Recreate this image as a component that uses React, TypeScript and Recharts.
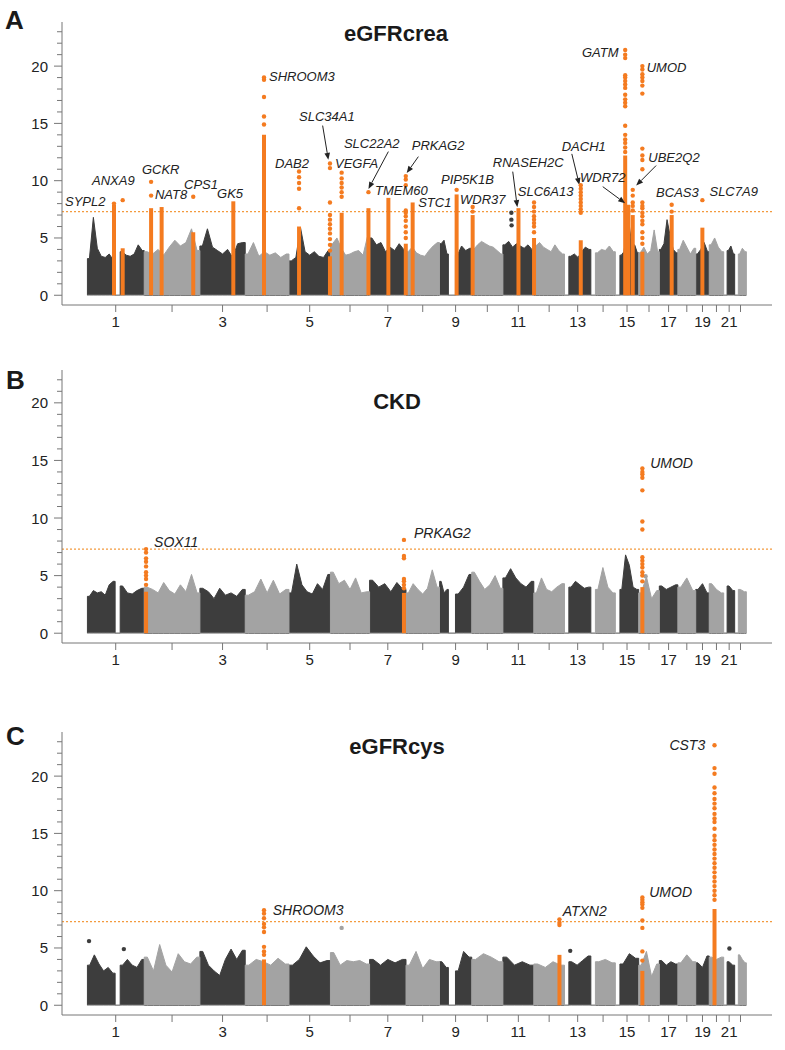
import React from "react"
import { ComposedChart, Area, Scatter, XAxis, YAxis, ReferenceLine, ReferenceDot } from "recharts"

const DARK = "#3d3d3d"
const GREY = "#a3a3a3"
const ORANGE = "#f47b20"
const AXIS = "#777777"
const FONT = "'Liberation Sans', Arial, Helvetica, sans-serif"

// chromosome lengths (Mb) and the stretches that actually carry SNPs
const chromLengths = [249, 243, 198, 191, 181, 171, 159, 146, 141, 136, 135, 134, 115, 107, 102, 90, 81, 78, 59, 63, 48, 51]
const tickLabels = ["1", "", "3", "", "5", "", "7", "", "9", "", "11", "", "13", "", "15", "", "17", "", "19", "", "21", ""]
const dataSpans: [number, number][][] = [
  [[1, 122], [144, 249]], [[0, 243]], [[0, 198]], [[0, 191]], [[0, 181]], [[0, 171]], [[0, 159]], [[0, 146]],
  [[1, 39], [70, 141]], [[0, 136]], [[0, 135]], [[0, 134]], [[19, 115]], [[20, 107]], [[20, 102]], [[0, 90]],
  [[0, 81]], [[0, 78]], [[0, 59]], [[0, 63]], [[15, 48]], [[16, 51]],
]

// upper edge of the dense background cloud, per chromosome and stretch (-log10 p)
const envA: number[][][] = [
  [[3.2, 6.8, 4.1, 3.4, 3.3, 3.6, 3.1], [3.8, 3.5, 3.4, 3.6, 4.4, 3.9]],
  [[3.8, 3.6, 4.0, 3.5, 4.2, 4.8, 4.3, 4.6, 5.8, 3.9]],
  [[4.3, 5.8, 4.2, 3.9, 3.6, 4.0, 3.3, 4.5, 4.6]],
  [[3.6, 4.6, 3.4, 3.8, 3.5, 3.7, 3.3, 3.6]],
  [[3.0, 3.3, 5.9, 3.8, 3.5, 3.8, 3.4, 3.3, 3.9]],
  [[4.5, 5.0, 4.1, 3.5, 3.6, 3.8, 3.9, 3.5, 5.1]],
  [[5.0, 4.4, 4.6, 3.8, 4.2, 3.9, 4.5, 4.0]],
  [[3.8, 4.2, 3.7, 3.5, 3.4, 3.9, 4.3, 4.6]],
  [[4.5, 4.8, 3.6], [3.5, 4.3, 3.9, 4.1]],
  [[4.0, 4.4, 4.7, 4.5, 4.3, 4.2, 3.9, 3.6]],
  [[4.4, 4.7, 4.2, 4.5, 4.3, 4.1, 4.4, 4.0]],
  [[4.3, 4.6, 4.2, 4.0, 3.8, 4.4, 3.9, 3.6]],
  [[3.4, 3.6, 3.3, 3.8, 4.2, 4.0]],
  [[3.7, 4.0, 3.9, 4.3, 3.8]],
  [[3.5, 3.8, 5.6, 6.1, 4.2, 4.4, 3.7]],
  [[3.7, 4.2, 3.6, 3.9, 5.7, 3.8]],
  [[4.0, 4.5, 6.6, 5.2, 4.0, 3.7]],
  [[4.0, 4.8, 4.2, 3.6, 4.1]],
  [[3.6, 4.0, 4.6, 3.8]],
  [[4.4, 5.0, 4.2, 3.8]],
  [[3.9, 4.3, 3.6]],
  [[3.6, 4.1, 3.8]],
]

const envB: number[][][] = [
  [[3.2, 3.7, 3.5, 3.6, 3.3, 4.2, 4.5], [4.1, 3.5, 3.4, 3.7, 3.9]],
  [[4.0, 3.8, 3.5, 4.4, 3.7, 3.4, 4.2, 3.6, 5.1, 3.5]],
  [[3.9, 3.6, 3.0, 3.9, 3.3, 3.5, 3.2, 3.8]],
  [[3.3, 3.6, 4.7, 3.5, 4.6, 3.4, 3.8]],
  [[3.5, 6.0, 4.2, 3.6, 3.4, 4.3, 3.8, 5.1]],
  [[5.3, 4.3, 4.6, 3.8, 4.8, 3.5, 3.6]],
  [[4.6, 4.0, 4.3, 3.6, 4.4, 3.8]],
  [[3.5, 4.3, 3.8, 3.4, 3.9, 5.5, 4.0]],
  [[4.5, 3.5, 3.8], [3.4, 4.0, 5.1]],
  [[5.3, 4.5, 3.8, 4.2, 5.0, 3.9]],
  [[4.8, 5.6, 4.8, 4.3, 4.0, 4.5]],
  [[3.5, 4.8, 3.8, 3.6, 4.0, 4.3]],
  [[4.0, 4.5, 4.2, 3.9, 4.0]],
  [[3.8, 5.7, 4.0, 3.5]],
  [[3.8, 6.8, 5.9, 4.0, 3.8]],
  [[3.5, 4.9, 3.0, 3.7]],
  [[4.1, 3.8, 4.0, 4.2]],
  [[4.0, 4.8, 3.7]],
  [[3.8, 4.3, 3.5]],
  [[4.3, 3.8, 3.5]],
  [[4.1, 3.7]],
  [[3.8, 3.6]],
]

const envC: number[][][] = [
  [[3.5, 4.4, 3.6, 3.0, 3.3, 2.8], [3.5, 4.0, 3.5, 3.3, 4.0]],
  [[4.2, 3.0, 5.3, 3.5, 2.9, 4.5, 3.8, 3.6, 4.2]],
  [[4.7, 3.5, 3.0, 2.6, 4.0, 4.9, 4.0, 4.8]],
  [[3.5, 4.0, 3.8, 3.5, 4.1, 3.6]],
  [[3.5, 4.0, 5.1, 4.3, 3.7, 3.9]],
  [[4.6, 3.5, 3.9, 3.8, 3.9, 3.6]],
  [[4.0, 3.5, 4.0, 3.7, 4.0]],
  [[3.5, 4.7, 3.2, 4.0, 3.8]],
  [[3.8, 3.3], [3.0, 4.7, 4.2]],
  [[4.0, 4.5, 4.2, 3.8]],
  [[4.2, 3.5, 3.8, 3.5]],
  [[3.6, 3.3, 3.8, 3.5]],
  [[3.8, 3.5, 3.9, 4.3]],
  [[3.8, 4.0, 3.7]],
  [[3.6, 4.5, 4.1]],
  [[3.5, 4.7, 2.5, 3.6]],
  [[3.9, 3.5, 3.8, 3.6]],
  [[3.7, 4.4, 3.8]],
  [[3.7, 3.3, 4.3]],
  [[4.2, 4.0, 4.2]],
  [[3.8, 3.5]],
  [[4.4, 4.0, 3.7]],
]

// isolated background SNPs above the cloud
const extrasA = [
  { chr: 11, mb: 37, y: 7.2 }, { chr: 11, mb: 37, y: 6.6 }, { chr: 11, mb: 38, y: 6.1 },
]
const extrasB = [{ chr: 16, mb: 30, y: 4.95 }]
const extrasC = [
  { chr: 1, mb: 8, y: 5.6 }, { chr: 1, mb: 160, y: 4.9 }, { chr: 6, mb: 49, y: 6.75 },
  { chr: 13, mb: 25, y: 4.75 }, { chr: 21, mb: 25, y: 4.95 },
]

// highlighted loci: solid column up to `column`, then single SNPs
const lociA = [
  { gene: "SYPL2", chr: 1, mb: 117, column: 7.9, dots: [8.0] },
  { gene: "ANXA9", chr: 1, mb: 155, column: 4.1, dots: [8.3] },
  { gene: "GCKR", chr: 2, mb: 30, column: 7.6, dots: [8.7, 9.9] },
  { gene: "NAT8", chr: 2, mb: 76, column: 7.7, dots: [] },
  { gene: "CPS1", chr: 2, mb: 214, column: 5.5, dots: [8.6] },
  { gene: "GK5", chr: 3, mb: 146, column: 8.2, dots: [] },
  { gene: "SHROOM3", chr: 4, mb: 82, column: 14.0, dots: [14.9, 15.6, 17.3, 18.8, 19.0] },
  { gene: "DAB2", chr: 5, mb: 44, column: 6.0, dots: [7.6, 9.3, 9.8, 10.3, 10.8] },
  { gene: "SLC34A1", chr: 5, mb: 179, column: 3.4, dots: [3.9, 4.4, 4.9, 5.4, 5.8, 6.2, 6.6, 7.0, 8.1, 11.1, 11.5] },
  { gene: "VEGFA", chr: 6, mb: 49, column: 7.2, dots: [8.6, 9.0, 9.4, 9.8, 10.2, 10.7] },
  { gene: "SLC22A2", chr: 6, mb: 166, column: 7.6, dots: [9.0] },
  { gene: "TMEM60", chr: 7, mb: 82, column: 8.5, dots: [] },
  { gene: "PRKAG2", chr: 7, mb: 158, column: 4.5, dots: [5.0, 5.5, 6.0, 6.5, 6.9, 7.2, 7.4, 9.6, 10.1, 10.4] },
  { gene: "STC1", chr: 8, mb: 29, column: 8.1, dots: [] },
  { gene: "PIP5K1B", chr: 9, mb: 75, column: 8.8, dots: [9.2] },
  { gene: "WDR37", chr: 10, mb: 4, column: 7.0, dots: [7.3, 7.7] },
  { gene: "RNASEH2C", chr: 11, mb: 68, column: 7.6, dots: [] },
  { gene: "SLC6A13", chr: 12, mb: 1, column: 5.0, dots: [5.5, 6.0, 6.3, 6.6, 6.9, 7.3, 7.7, 8.1] },
  { gene: "DACH1", chr: 13, mb: 71, column: 4.8, dots: [7.2, 7.5, 7.8, 8.1, 8.4, 8.7, 9.0, 9.3, 9.6] },
  { gene: "GATM", chr: 15, mb: 43, column: 12.2, dots: [12.5, 12.9, 13.3, 13.6, 14.0, 14.8, 16.5, 16.8, 17.1, 17.5, 18.1, 18.4, 18.7, 19.0, 19.2, 20.7, 21.0, 21.4] },
  { gene: "WDR72", chr: 15, mb: 57, column: 7.9, dots: [] },
  { gene: "UBE2Q2", chr: 15, mb: 76, column: 7.0, dots: [7.4, 7.8, 8.1, 8.7, 9.2] },
  { gene: "UMOD", chr: 16, mb: 16, column: 3.8, dots: [4.5, 5.0, 5.5, 6.2, 6.5, 6.9, 7.2, 7.6, 7.8, 8.1, 11.0, 11.8, 12.2, 12.8, 17.6, 18.3, 18.7, 19.0, 19.3, 19.7, 20.0] },
  { gene: "BCAS3", chr: 17, mb: 54, column: 7.0, dots: [7.3, 7.9] },
  { gene: "SLC7A9", chr: 19, mb: 29, column: 5.9, dots: [8.3] },
]

const lociB = [
  { gene: "SOX11", chr: 2, mb: 8, column: 3.6, dots: [4.2, 4.7, 5.0, 5.3, 5.8, 6.2, 6.5, 7.0, 7.3] },
  { gene: "PRKAG2", chr: 7, mb: 150, column: 3.5, dots: [3.9, 4.2, 4.5, 4.7, 6.5, 6.7, 8.1] },
  { gene: "UMOD", chr: 16, mb: 16, column: 4.0, dots: [4.5, 5.0, 5.3, 5.7, 6.0, 6.3, 6.6, 9.0, 9.7, 12.4, 13.5, 13.8, 14.0, 14.3] },
]

const lociC = [
  { gene: "SHROOM3", chr: 4, mb: 82, column: 4.0, dots: [4.4, 4.7, 5.1, 6.4, 6.8, 7.1, 7.6, 8.0, 8.3] },
  { gene: "ATXN2", chr: 12, mb: 112, column: 4.4, dots: [7.0, 7.2, 7.5] },
  { gene: "UMOD", chr: 16, mb: 16, column: 3.0, dots: [3.9, 4.7, 6.75, 7.4, 8.5, 8.8, 9.0, 9.2, 9.4] },
  { gene: "CST3", chr: 20, mb: 23, column: 8.4, dots: [9.2, 9.6, 10.0, 10.4, 10.8, 11.2, 11.6, 12.0, 12.4, 12.8, 13.2, 13.6, 14.0, 14.4, 14.8, 15.4, 16.0, 16.3, 16.7, 17.2, 17.6, 18.0, 18.5, 19.0, 20.2, 20.7, 22.7] },
]

// gene labels: left/baseline anchor in (genome Mb, -log10 p)
const labelsA = [
  { text: "SYPL2", x: -97, y: 7.77 }, { text: "ANXA9", x: 21, y: 9.58 }, { text: "GCKR", x: 239, y: 10.54 },
  { text: "NAT8", x: 296, y: 8.36 }, { text: "CPS1", x: 423, y: 9.28 }, { text: "GK5", x: 567, y: 8.5 },
  { text: "SHROOM3", x: 794, y: 18.69 }, { text: "SLC34A1", x: 925, y: 15.22 }, { text: "DAB2", x: 820, y: 11.12 },
  { text: "VEGFA", x: 1082, y: 11.12 }, { text: "SLC22A2", x: 1121, y: 12.86 }, { text: "TMEM60", x: 1257, y: 8.73 },
  { text: "PRKAG2", x: 1417, y: 12.66 }, { text: "STC1", x: 1445, y: 7.68 }, { text: "PIP5K1B", x: 1545, y: 9.75 },
  { text: "WDR37", x: 1628, y: 7.97 }, { text: "RNASEH2C", x: 1771, y: 11.17 }, { text: "SLC6A13", x: 1880, y: 8.7 },
  { text: "DACH1", x: 2072, y: 12.57 }, { text: "WDR72", x: 2152, y: 9.86 }, { text: "GATM", x: 2160, y: 20.81 },
  { text: "UMOD", x: 2443, y: 19.47 }, { text: "UBE2Q2", x: 2450, y: 11.64 }, { text: "BCAS3", x: 2484, y: 8.55 },
  { text: "SLC7A9", x: 2717, y: 8.7 },
]
const labelsB = [
  { text: "SOX11", x: 292, y: 7.46 }, { text: "PRKAG2", x: 1427, y: 8.27 }, { text: "UMOD", x: 2458, y: 14.36 },
]
const labelsC = [
  { text: "SHROOM3", x: 810, y: 7.9 }, { text: "ATXN2", x: 2076, y: 7.81 },
  { text: "UMOD", x: 2454, y: 9.41 }, { text: "CST3", x: 2542, y: 22.3 },
]

const arrowsA = [
  { x1: 1028, y1: 14.81, x2: 1053, y2: 11.82 },
  { x1: 1315, y1: 12.54, x2: 1228, y2: 9.28 },
  { x1: 1446, y1: 12.1, x2: 1395, y2: 10.66 },
  { x1: 1858, y1: 10.79, x2: 1878, y2: 7.69 },
  { x1: 2116, y1: 12.34, x2: 2149, y2: 9.63 },
  { x1: 2251, y1: 9.48, x2: 2349, y2: 8.03 },
  { x1: 2484, y1: 11.32, x2: 2397, y2: 9.57 },
]

const chromStarts = chromLengths.map((_, i) => chromLengths.slice(0, i).reduce((a, b) => a + b, 0))
const chromCenters = chromLengths.map((len, i) => chromStarts[i] + len / 2)
const gpos = (chr: number, mb: number) => chromStarts[chr - 1] + mb

function buildBackground(env: number[][][]) {
  const rows: { x: number; dark: number; grey: number }[] = []
  env.forEach((segs, ci) => {
    const isDark = ci % 2 === 0
    const row = (x: number, h: number) => ({ x, dark: isDark ? h : 0, grey: isDark ? 0 : h })
    segs.forEach((vals, si) => {
      const [s, e] = dataSpans[ci][si]
      const x0 = gpos(ci + 1, s)
      const x1 = gpos(ci + 1, e)
      rows.push(row(x0, 0), row(x0, vals[0]))
      vals.forEach((h, k) => rows.push(row(x0 + ((k + 0.5) / vals.length) * (x1 - x0), h)))
      rows.push(row(x1, vals[vals.length - 1]), row(x1, 0))
    })
  })
  return rows
}

function YTick(props: any) {
  const { x, y, payload } = props
  const major = payload.value % 5 === 0
  return (
    <g>
      <line x1={x - (major ? 8 : 5)} x2={x} y1={y} y2={y} stroke={AXIS} />
      {major && (
        <text x={x - 14} y={y} dy={5.5} textAnchor="end" fontSize={15} fill="#222" fontFamily={FONT}>
          {payload.value}
        </text>
      )}
    </g>
  )
}

function Arrow(props: any) {
  const { x1, y1, x2, y2 } = props
  const dx = x2 - x1
  const dy = y2 - y1
  const len = Math.hypot(dx, dy) || 1
  const ux = dx / len
  const uy = dy / len
  const bx = x2 - ux * 7
  const by = y2 - uy * 7
  return (
    <g>
      <line x1={x1} y1={y1} x2={bx} y2={by} stroke="#222" strokeWidth={1} />
      <polygon points={`${x2},${y2} ${bx - uy * 2.8},${by + ux * 2.8} ${bx + uy * 2.8},${by - ux * 2.8}`} fill="#222" />
    </g>
  )
}

const dot = (color: string, r: number) => (p: any) => <circle cx={p.cx} cy={p.cy} r={r} fill={color} />

type Locus = { gene: string; chr: number; mb: number; column: number; dots: number[] }
type Extra = { chr: number; mb: number; y: number }
type Label = { text: string; x: number; y: number }
type ArrowDef = { x1: number; y1: number; x2: number; y2: number }

function Panel(props: {
  top: number; height: number; yMax: number; env: number[][][]; extras: Extra[]; loci: Locus[];
  labels: Label[]; arrows: ArrowDef[]; labelSize: number
}) {
  const { top, height, yMax, env, extras, loci, labels, arrows, labelSize } = props
  const bg = buildBackground(env)
  const orangeDots = loci.flatMap((l) => l.dots.map((y) => ({ x: gpos(l.chr, l.mb), y })))
  const darkExtras = extras.filter((e) => e.chr % 2 === 1).map((e) => ({ x: gpos(e.chr, e.mb), y: e.y }))
  const greyExtras = extras.filter((e) => e.chr % 2 === 0).map((e) => ({ x: gpos(e.chr, e.mb), y: e.y }))
  const yTicks = Array.from({ length: yMax + 1 }, (_, i) => i)

  return (
    <div style={{ position: "absolute", left: 0, top, width: 785, height }}>
      <ComposedChart width={785} height={height} data={bg} margin={{ top: 22, right: 13, bottom: 5, left: 12 }}>
        <XAxis
          type="number"
          dataKey="x"
          domain={[-110, 2990]}
          allowDataOverflow
          ticks={chromCenters}
          interval={0}
          tickFormatter={(_v: number, i: number) => tickLabels[i]}
          tickSize={7}
          tickMargin={4}
          height={30}
          axisLine={{ stroke: AXIS }}
          tickLine={{ stroke: AXIS }}
          tick={{ fontSize: 15, fill: "#222", fontFamily: FONT }}
        />
        <YAxis
          type="number"
          domain={[-0.85, yMax + 0.85]}
          allowDataOverflow
          ticks={yTicks}
          interval={0}
          width={50}
          tickSize={0}
          tickMargin={0}
          tickLine={false}
          axisLine={{ stroke: AXIS }}
          tick={(p: any) => <YTick {...p} />}
        />
        <Area dataKey="dark" type="linear" fill={DARK} fillOpacity={1} stroke={DARK} strokeWidth={1} isAnimationActive={false} />
        <Area dataKey="grey" type="linear" fill={GREY} fillOpacity={1} stroke={GREY} strokeWidth={1} isAnimationActive={false} />
        <Scatter data={darkExtras} dataKey="y" shape={dot(DARK, 2.2)} isAnimationActive={false} />
        <Scatter data={greyExtras} dataKey="y" shape={dot(GREY, 2.2)} isAnimationActive={false} />
        <ReferenceLine y={7.3} stroke="#f39a3e" strokeWidth={1.1} strokeDasharray="2 2" />
        {loci.map((l) => (
          <ReferenceLine
            key={l.gene + l.chr}
            segment={[{ x: gpos(l.chr, l.mb), y: 0 }, { x: gpos(l.chr, l.mb), y: l.column }]}
            stroke={ORANGE}
            strokeWidth={4}
          />
        ))}
        <Scatter data={orangeDots} dataKey="y" shape={dot(ORANGE, 2.2)} isAnimationActive={false} />
        {arrows.map((a, i) => (
          <ReferenceLine
            key={"ar" + i}
            segment={[{ x: a.x1, y: a.y1 }, { x: a.x2, y: a.y2 }]}
            stroke="#222"
            shape={(p: any) => <Arrow {...p} />}
          />
        ))}
        {labels.map((lb) => (
          <ReferenceDot
            key={lb.text}
            x={lb.x}
            y={lb.y}
            r={0}
            shape={(p: any) => (
              <text x={p.cx} y={p.cy} fontSize={labelSize} fontStyle="italic" fill="#222" fontFamily={FONT}>
                {lb.text}
              </text>
            )}
          />
        ))}
      </ComposedChart>
    </div>
  )
}

export default function App() {
  const titleStyle = { fontFamily: FONT, fontWeight: 700, fill: "#1a1a1a" } as const
  return (
    <div style={{ position: "absolute", left: 0, top: 0, width: 785, height: 1050, background: "#fff" }}>
      <Panel top={0} height={340} yMax={23} env={envA} extras={extrasA} loci={lociA} labels={labelsA} arrows={arrowsA} labelSize={13} />
      <Panel top={348} height={330} yMax={22} env={envB} extras={extrasB} loci={lociB} labels={labelsB} arrows={[]} labelSize={14} />
      <Panel top={710} height={340} yMax={23} env={envC} extras={extrasC} loci={lociC} labels={labelsC} arrows={[]} labelSize={14} />
      <svg width={785} height={1050} style={{ position: "absolute", left: 0, top: 0, pointerEvents: "none" }}>
        <text x={5} y={29} fontSize={26} {...titleStyle}>A</text>
        <text x={6} y={389} fontSize={26} {...titleStyle}>B</text>
        <text x={6} y={745} fontSize={26} {...titleStyle}>C</text>
        <text x={396} y={40.5} fontSize={22} textAnchor="middle" {...titleStyle}>eGFRcrea</text>
        <text x={397} y={409} fontSize={22} textAnchor="middle" {...titleStyle}>CKD</text>
        <text x={397} y={754} fontSize={22} textAnchor="middle" {...titleStyle}>eGFRcys</text>
      </svg>
    </div>
  )
}
